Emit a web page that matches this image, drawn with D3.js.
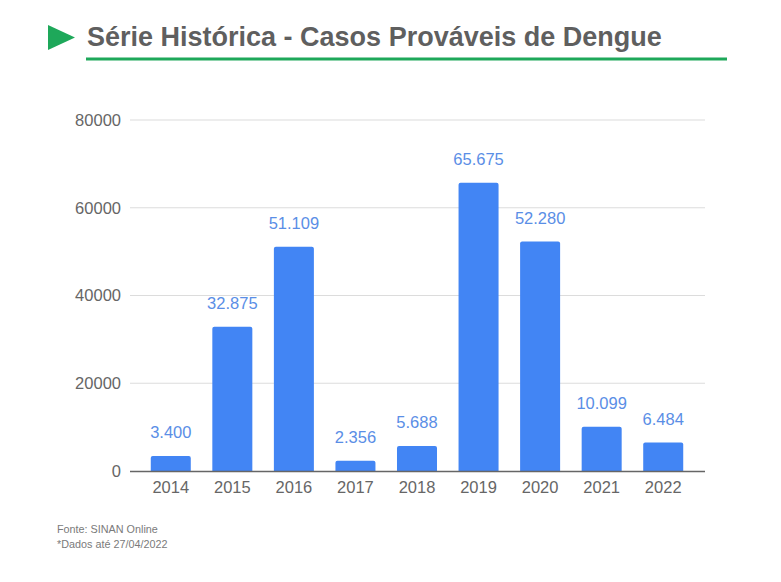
<!DOCTYPE html>
<html><head><meta charset="utf-8">
<script src="https://cdn.jsdelivr.net/npm/d3@7"></script>
<style>body{margin:0;background:#fff;}svg{display:block;font-family:"Liberation Sans",Arial,sans-serif;}</style>
</head><body>
<script>
const years = ["2014","2015","2016","2017","2018","2019","2020","2021","2022"];
const cases = [3400,32875,51109,2356,5688,65675,52280,10099,6484];
const valueLabels = ["3.400","32.875","51.109","2.356","5.688","65.675","52.280","10.099","6.484"];
const yTicks = [0,20000,40000,60000,80000];

const W=781,H=582;
const svg=d3.select("body").append("svg").attr("width",W).attr("height",H);

// header
svg.append("path").attr("d","M48,25 L75,37.5 L48,50 Z").attr("fill","#1ea85a");
svg.append("text").attr("x",87).attr("y",46).attr("font-size",27).attr("font-weight","bold")
  .attr("fill","#5f5f5f").text("Série Histórica - Casos Prováveis de Dengue");
svg.append("rect").attr("x",86).attr("y",57.5).attr("width",641).attr("height",3).attr("fill","#1ea85a");

const y=d3.scaleLinear().domain([0,80000]).range([471,120]);
const x=d3.scaleBand().domain(years).range([140,694]).paddingInner(0.35).paddingOuter(0.175);
const gx0=130,gx1=705;

// grid
const grid=svg.append("g");
grid.selectAll("line").data(yTicks.filter(d=>d>0)).join("line")
  .attr("x1",gx0).attr("x2",gx1).attr("y1",d=>y(d)).attr("y2",d=>y(d))
  .attr("stroke","#dcdcdc").attr("stroke-width",1.2);

// y axis labels
const yAxis=d3.axisLeft(y).tickValues(yTicks).tickSize(0).tickPadding(0).tickFormat(d3.format("d"));
const ya=svg.append("g").attr("transform","translate(121,0)").call(yAxis);
ya.select(".domain").remove();
ya.selectAll("text").attr("font-size",16.5).attr("fill","#666").attr("font-family","Liberation Sans, Arial, sans-serif");

// bars
const r=2;
svg.append("g").selectAll("path").data(years).join("path")
  .attr("fill","#4285f4")
  .attr("d",(d,i)=>{
    const x0=x(d),w=x.bandwidth(),t=y(cases[i]),b=y(0);
    return `M${x0},${b} L${x0},${t+r} Q${x0},${t} ${x0+r},${t} L${x0+w-r},${t} Q${x0+w},${t} ${x0+w},${t+r} L${x0+w},${b} Z`;
  });

// baseline
svg.append("line").attr("x1",gx0).attr("x2",gx1).attr("y1",y(0)+0.5).attr("y2",y(0)+0.5)
  .attr("stroke","#666").attr("stroke-width",1.3);

// value labels
svg.append("g").selectAll("text").data(years).join("text")
  .attr("x",d=>x(d)+x.bandwidth()/2).attr("y",(d,i)=>y(cases[i])-18)
  .attr("text-anchor","middle").attr("font-size",16.5).attr("fill","#5a8ee6")
  .text((d,i)=>valueLabels[i]);

// x axis labels
const xAxis=d3.axisBottom(x).tickSize(0).tickPadding(0);
const xa=svg.append("g").attr("transform","translate(0,481)").call(xAxis);
xa.select(".domain").remove();
xa.selectAll("text").attr("font-size",16.5).attr("fill","#666").attr("font-family","Liberation Sans, Arial, sans-serif");

// footer
svg.append("text").attr("x",57).attr("y",533).attr("font-size",10.8).attr("fill","#7a7a7a").text("Fonte: SINAN Online");
svg.append("text").attr("x",57).attr("y",548).attr("font-size",10.8).attr("fill","#7a7a7a").text("*Dados até 27/04/2022");
</script>
</body></html>
